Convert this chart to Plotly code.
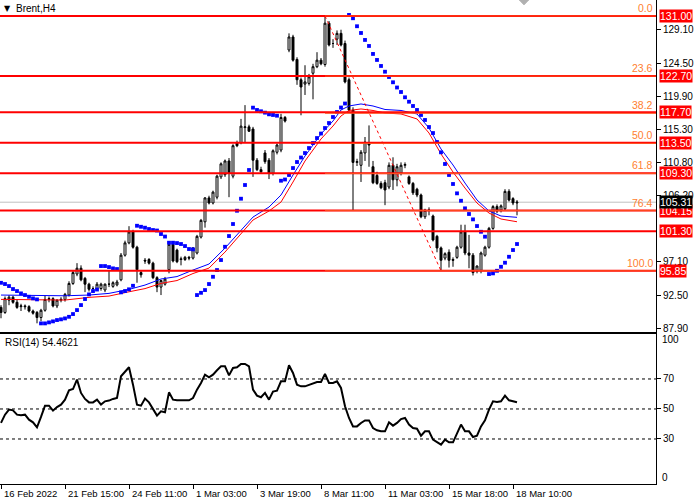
import plotly.graph_objects as go

# Brent H4, 16 Feb - 18 Mar 2022, one candle per 4 hours
open_ = [90.8, 90.1, 91.8, 92.2, 91.5, 90.9, 91.0, 90.9, 90.3, 90.1,
         89.4, 90.4, 91.9, 92.0, 91.0, 91.8, 91.9, 92.5, 94.1, 95.4,
         96.2, 94.8, 94.0, 93.4, 93.4, 93.4, 93.2, 94.0, 93.7, 93.9,
         94.6, 98.0, 99.7, 101.2, 99.1, 95.6, 97.3, 97.4, 96.9, 94.9,
         93.6, 94.0, 96.0, 99.5, 98.7, 97.5, 97.4, 97.7, 97.6, 98.3,
         100.5, 102.6, 105.9, 105.2, 106.0, 108.8, 109.1, 111.0, 108.9, 113.5,
         113.5, 115.6, 115.7, 115.4, 111.1, 109.8, 112.1, 111.1, 109.3, 112.2,
         112.5, 117.0, 126.3, 128.1, 125.0, 122.2, 121.6, 121.7, 123.1, 124.0,
         124.9, 124.3, 130.0, 127.2, 127.8, 128.6, 127.2, 122.2, 118.0, 110.8,
         110.4, 112.1, 113.4, 110.2, 109.0, 107.9, 108.0, 107.4, 110.4, 108.4,
         109.3, 110.4, 108.8, 107.9, 107.1, 106.3, 103.3, 104.2, 103.4, 100.6,
         99.0, 97.6, 98.4, 97.4, 97.7, 99.1, 101.2, 98.3, 98.0, 95.8,
         95.9, 98.0, 99.1, 101.7, 104.7, 104.2, 104.4, 106.8, 105.8, 105.2]
high = [91.1, 92.3, 92.5, 92.4, 91.9, 91.3, 91.2, 91.1, 90.5, 90.3,
        90.6, 92.5, 92.3, 92.2, 91.9, 92.2, 92.8, 94.4, 95.9, 96.9,
        96.6, 95.0, 94.2, 93.7, 94.3, 94.2, 94.1, 95.9, 94.4, 94.6,
        98.3, 100.0, 102.0, 101.5, 99.3, 95.9, 97.6, 97.6, 97.1, 95.1,
        94.6, 95.0, 99.6, 99.6, 98.9, 97.8, 97.9, 97.9, 99.1, 100.8,
        103.0, 106.0, 106.2, 106.9, 109.1, 110.8, 111.2, 111.4, 113.3, 113.8,
        116.8, 118.7, 116.0, 115.7, 111.4, 110.2, 112.5, 111.4, 112.6, 113.4,
        117.5, 117.2, 128.6, 128.4, 125.3, 122.5, 124.2, 123.0, 124.4, 126.0,
        125.2, 131.0, 130.3, 127.8, 129.0, 129.1, 127.6, 122.5, 118.4, 111.3,
        112.5, 114.3, 115.9, 111.0, 109.5, 108.2, 108.4, 110.8, 111.5, 110.6,
        110.8, 110.8, 109.0, 108.1, 107.3, 106.5, 104.4, 104.6, 103.6, 100.8,
        99.2, 98.4, 98.8, 97.7, 99.3, 102.2, 102.2, 100.8, 98.3, 96.6,
        98.5, 99.3, 101.9, 104.9, 105.0, 105.0, 107.1, 107.1, 106.0, 105.6]
low = [89.3, 89.9, 91.1, 91.3, 90.6, 90.3, 90.5, 90.1, 89.8, 88.6,
       88.9, 90.2, 91.5, 90.8, 90.7, 91.5, 91.6, 92.3, 93.9, 95.1,
       94.4, 92.9, 93.0, 93.0, 93.1, 93.1, 92.9, 93.6, 93.5, 93.7,
       94.4, 97.8, 99.5, 98.9, 94.2, 94.9, 96.8, 96.7, 94.7, 92.9,
       92.5, 93.8, 95.5, 97.0, 96.9, 96.6, 97.2, 97.3, 97.4, 98.1,
       100.3, 101.8, 105.0, 105.0, 105.7, 108.5, 108.8, 106.0, 108.6, 112.9,
       113.3, 113.5, 115.0, 108.8, 109.6, 109.2, 110.6, 108.5, 109.0, 111.9,
       112.2, 116.3, 126.0, 124.7, 121.5, 117.3, 120.1, 121.4, 119.5, 123.8,
       124.2, 124.0, 126.8, 126.6, 127.0, 126.8, 121.7, 117.8, 104.2, 110.3,
       108.1, 111.0, 110.2, 107.8, 107.7, 107.1, 104.9, 107.1, 107.0, 107.5,
       109.0, 110.0, 107.7, 106.3, 106.0, 103.1, 103.0, 103.5, 99.9, 98.4,
       95.85, 97.3, 96.3, 96.4, 97.5, 98.9, 98.0, 96.2, 95.2, 95.5,
       95.5, 97.8, 98.9, 101.5, 103.8, 103.9, 104.1, 105.4, 104.9, 103.5]
close = [90.1, 92.0, 92.2, 91.5, 90.8, 91.0, 90.9, 90.3, 90.0, 89.4,
         90.4, 91.9, 92.0, 91.0, 91.8, 91.9, 92.6, 94.1, 95.6, 96.2,
         94.6, 94.0, 93.3, 93.4, 94.0, 94.0, 94.0, 94.0, 94.2, 94.3,
         98.0, 99.7, 101.2, 99.1, 96.0, 95.3, 97.2, 96.9, 94.9, 93.6,
         94.5, 94.7, 99.5, 97.2, 97.1, 97.4, 97.7, 97.6, 99.0, 100.6,
         102.8, 105.9, 105.2, 106.7, 108.9, 110.6, 111.0, 109.3, 113.1, 113.1,
         115.8, 115.7, 115.1, 111.1, 109.8, 109.5, 110.9, 109.3, 112.4, 113.2,
         117.0, 116.5, 128.1, 124.9, 122.2, 121.2, 121.9, 122.6, 124.0, 124.9,
         124.4, 130.0, 127.0, 127.2, 128.6, 127.0, 121.9, 118.0, 110.8, 110.9,
         112.2, 113.6, 113.2, 108.0, 107.9, 107.3, 107.0, 110.4, 108.4, 110.2,
         110.4, 110.5, 107.9, 106.6, 106.3, 103.3, 104.2, 104.2, 100.1, 99.0,
         97.3, 98.2, 97.3, 97.3, 99.1, 101.2, 98.3, 98.0, 95.6, 96.5,
         98.3, 99.1, 101.7, 104.7, 104.1, 104.8, 106.8, 105.6, 105.2, 105.31]

# Parabolic SAR, one dot per candle
sar = [94.19, 94.02, 93.74, 93.33, 93.05, 92.73, 92.50, 92.26, 92.04, 91.90,
       88.59, 88.59, 88.73, 88.87, 89.05, 89.15, 89.28, 89.50, 89.88, 90.43,
       91.12, 91.95, 92.59, 93.05, 93.26, 96.50, 96.50, 96.36, 96.18, 96.09,
       92.87, 93.05, 93.29, 93.78, 102.06, 101.92, 101.79, 101.61, 101.47, 101.40,
       100.92, 100.57, 99.72, 99.72, 99.67, 99.54, 99.26, 98.85, 98.80, 92.50,
       92.81, 93.19, 94.02, 95.02, 95.95, 97.33, 99.16, 100.64, 102.30, 104.13,
       105.79, 107.68, 109.75, 118.35, 118.03, 117.85, 117.66, 117.43, 117.34, 117.24,
       108.27, 108.44, 109.06, 110.02, 110.85, 111.47, 112.09, 112.78, 113.47, 114.16,
       114.78, 115.54, 116.23, 117.06, 117.75, 118.37, 118.92, 131.14, 130.68, 129.58,
       128.65, 127.69, 126.86, 125.76, 124.93, 124.10, 123.31, 122.58, 121.85, 121.13,
       120.51, 119.78, 119.17, 118.58, 118.03, 117.34, 116.65, 115.68, 114.85, 113.61,
       112.19, 110.58, 109.06, 107.82, 106.53, 105.51, 104.46, 103.68, 102.94, 102.02,
       101.23, 100.55, 95.40, 95.49, 95.85, 96.40, 96.96, 97.78, 98.71, 99.54]

# moving averages, sampled along the chart
ma_idx = [0, 8, 16, 22, 27, 32, 36, 40, 44, 48, 52, 56, 60, 63, 67, 70, 73, 76,
          80, 83, 85, 87, 90, 93, 96, 100, 104, 107, 110, 113, 116, 119, 122, 125, 129]
ma_blue = [92.50, 92.43, 92.40, 92.50, 92.73, 93.28, 93.88, 94.71, 95.05, 95.95,
           96.78, 98.98, 101.47, 103.26, 104.64, 106.30, 109.06, 111.68, 114.72, 116.51,
           118.03, 118.58, 118.86, 118.58, 118.10, 117.96, 117.48, 115.54, 112.65, 110.44,
           107.95, 105.61, 104.09, 103.40, 103.22]
ma_red = [91.90, 91.88, 91.81, 92.18, 92.36, 92.95, 93.39, 94.11, 94.50, 95.47,
          96.22, 98.43, 100.98, 102.85, 104.09, 105.33, 108.09, 110.99, 114.03, 115.82,
          117.20, 117.96, 118.17, 117.96, 117.61, 117.48, 116.79, 114.85, 111.96, 109.47,
          107.26, 105.19, 103.81, 102.99, 102.61]

# RSI(14), one value per candle
rsi = [40.7, 46.2, 49.6, 49.1, 46.2, 45.8, 46.2, 42.9, 41.1, 37.8,
       44.7, 52.2, 52.2, 48.9, 51.3, 52.9, 56.2, 62.4, 63.3, 69.6,
       60.7, 56.7, 54.4, 54.4, 56.2, 52.9, 55.1, 55.6, 56.7, 57.3,
       71.8, 75.1, 77.8, 66.2, 52.9, 52.2, 56.9, 54.4, 49.6, 45.6,
       48.4, 47.8, 61.1, 56.2, 55.8, 55.8, 55.8, 55.8, 57.3, 62.9,
       67.3, 72.9, 71.1, 72.9, 75.8, 78.4, 78.4, 72.4, 77.3, 77.8,
       80.0, 80.0, 78.4, 62.9, 58.9, 57.8, 60.7, 56.2, 61.6, 62.2,
       68.4, 68.4, 79.1, 74.0, 66.2, 65.1, 65.1, 66.2, 67.3, 68.0,
       68.0, 73.3, 67.3, 67.3, 68.4, 64.0, 51.8, 44.0, 38.4, 38.4,
       40.7, 42.4, 42.4, 37.3, 35.8, 35.1, 35.1, 41.1, 38.9, 40.7,
       43.3, 44.0, 39.6, 37.3, 36.9, 32.2, 35.1, 35.1, 29.6, 27.8,
       26.2, 29.6, 27.8, 27.8, 33.6, 39.6, 35.1, 35.1, 31.3, 32.2,
       38.4, 42.4, 49.6, 55.1, 54.7, 55.1, 58.9, 55.8, 55.1, 54.46]

date_idx = [0, 16, 32, 48, 64, 80, 96, 112, 128]
date_labels = ["16 Feb 2022", "21 Feb 15:00", "24 Feb 11:00", "1 Mar 03:00", "3 Mar 19:00",
               "8 Mar 11:00", "11 Mar 03:00", "15 Mar 18:00", "18 Mar 10:00"]

# horizontal levels drawn on the chart
level_prices = [131.00, 122.70, 117.70, 113.50, 109.30, 104.15, 101.30, 95.85]
fib_pcts = [0.0, 23.6, 38.2, 50.0, 61.8, 76.4, 100.0]
fib_start, fib_end = 81, 110
fib_high, fib_low = 131.00, 95.85

price_ticks = [87.90, 92.50, 97.10, 106.20, 110.80, 115.30, 119.90, 124.50, 129.10]

FONT = "Liberation Sans, Arial, sans-serif"
x = list(range(len(close)))
x_range = [-0.25, 163.75]

fig = go.Figure()

fig.add_trace(go.Candlestick(
    x=x, open=open_, high=high, low=low, close=close,
    increasing=dict(line=dict(color="black", width=1), fillcolor="white"),
    decreasing=dict(line=dict(color="black", width=1), fillcolor="black"),
    whiskerwidth=0, xaxis="x", yaxis="y", showlegend=False,
))
fig.add_trace(go.Scatter(x=ma_idx, y=ma_red, mode="lines",
                         line=dict(color="#FF0000", width=1), xaxis="x", yaxis="y"))
fig.add_trace(go.Scatter(x=ma_idx, y=ma_blue, mode="lines",
                         line=dict(color="#0000FF", width=1), xaxis="x", yaxis="y"))
fig.add_trace(go.Scatter(x=x, y=sar, mode="markers",
                         marker=dict(symbol="square", size=3.8, color="#0000FF"),
                         xaxis="x", yaxis="y"))
# fibo trend line
fig.add_trace(go.Scatter(x=[fib_start, fib_end], y=[fib_high, fib_low], mode="lines",
                         line=dict(color="#FF0000", width=1, dash="dot"), xaxis="x", yaxis="y"))
fig.add_trace(go.Scatter(x=x, y=rsi, mode="lines", line=dict(color="black", width=2),
                         xaxis="x2", yaxis="y2"))

shapes = []
annotations = []

# bid line
shapes.append(dict(type="line", xref="paper", x0=0, x1=1, yref="y", y0=close[-1], y1=close[-1],
                   line=dict(color="#C0C0C0", width=1), layer="below"))

for p in level_prices:
    shapes.append(dict(type="line", xref="paper", x0=0, x1=1, yref="y", y0=p, y1=p,
                       line=dict(color="#FF0000", width=2), layer="above"))
    annotations.append(dict(xref="paper", x=1, xshift=3, xanchor="left", yref="y", y=p,
                            text=f"{p:.2f}", showarrow=False, bgcolor="#FF0000",
                            font=dict(color="white", size=10.5, family=FONT), borderpad=0))

fib_range = fib_high - fib_low
for pct in fib_pcts:
    lv = fib_high - pct / 100 * fib_range
    shapes.append(dict(type="line", xref="x", x0=fib_start, x1=x_range[1], yref="y", y0=lv, y1=lv,
                       line=dict(color="#FF5020", width=1), layer="above"))
    annotations.append(dict(xref="paper", x=1, xshift=-1, xanchor="right", yref="y", y=lv,
                            yanchor="bottom", text=f"{pct:.1f}", showarrow=False,
                            font=dict(color="#FF8030", size=10.5, family=FONT)))

annotations.append(dict(xref="paper", x=1, xshift=3, xanchor="left", yref="y", y=close[-1],
                        text=f"{close[-1]:.2f}", showarrow=False, bgcolor="black",
                        font=dict(color="white", size=10.5, family=FONT), borderpad=0))

for lv in [30, 50, 70]:
    shapes.append(dict(type="line", xref="paper", x0=0, x1=1, yref="y2", y0=lv, y1=lv,
                       line=dict(color="black", width=1, dash="3px,3px")))

# chart shift marker
shapes.append(dict(type="path", xref="x", yref="paper",
                   path="M 129.6 1 L 131.9 1 L 130.75 0.99 Z",
                   fillcolor="#B0B0B0", line=dict(color="#B0B0B0", width=1)))

for i, lab in zip(date_idx, date_labels):
    annotations.append(dict(xref="x2", x=i, xshift=1, xanchor="left", yref="paper", y=0,
                            yshift=-9, yanchor="middle", text=lab, showarrow=False,
                            font=dict(color="black", size=9.5, family=FONT)))

annotations.append(dict(xref="paper", x=0, xshift=2, xanchor="left", yref="paper", y=1,
                        yshift=-8, yanchor="middle", text="▼", showarrow=False,
                        font=dict(color="black", size=8, family="DejaVu Sans")))
annotations.append(dict(xref="paper", x=0, xshift=14, xanchor="left", yref="paper", y=1,
                        yshift=-8, yanchor="middle", text="Brent,H4", showarrow=False,
                        font=dict(color="black", size=10, family=FONT)))
annotations.append(dict(xref="paper", x=0, xshift=3, xanchor="left", yref="y2", y=100,
                        yshift=-9, yanchor="middle", text="RSI(14) 54.4621", showarrow=False,
                        font=dict(color="black", size=10, family=FONT)))
annotations.append(dict(xref="paper", x=1, xshift=4, xanchor="left", yref="y2", y=100,
                        yshift=-6, yanchor="middle", text="100", showarrow=False,
                        font=dict(color="black", size=10, family=FONT)))
annotations.append(dict(xref="paper", x=1, xshift=4, xanchor="left", yref="y2", y=0,
                        yshift=7, yanchor="middle", text="0", showarrow=False,
                        font=dict(color="black", size=10, family=FONT)))

fig.update_layout(
    width=700, height=500,
    margin=dict(l=0, r=44, t=0, b=16),
    paper_bgcolor="white", plot_bgcolor="white",
    showlegend=False, hovermode=False,
    font=dict(family=FONT, size=10, color="black"),
    xaxis=dict(domain=[0, 1], anchor="y", range=x_range, showticklabels=False,
               showline=True, linecolor="black", linewidth=1, ticks="", showgrid=False,
               zeroline=False, rangeslider=dict(visible=False), matches="x2"),
    yaxis=dict(domain=[0.314, 1], anchor="x", side="right", range=[87.4, 133.2],
               tickvals=price_ticks, tickformat=".2f", ticks="outside", ticklen=4,
               tickcolor="black", showline=True, linecolor="black", showgrid=False,
               zeroline=False, tickfont=dict(size=10)),
    xaxis2=dict(domain=[0, 1], anchor="y2", range=x_range, tickvals=date_idx,
                showticklabels=False, ticks="outside", ticklen=4, tickcolor="black",
                showline=True, mirror=True, linecolor="black", showgrid=False, zeroline=False),
    yaxis2=dict(domain=[0, 0.31], anchor="x2", side="right", range=[0, 100],
                tickvals=[30, 50, 70], ticks="outside", ticklen=4, tickcolor="black",
                showline=True, linecolor="black", showgrid=False, zeroline=False,
                tickfont=dict(size=10)),
    shapes=shapes, annotations=annotations,
)

# the page body has a default 8px margin; drop it so the figure fills the window
fig.write_html("out.html", config={"displayModeBar": False},
               post_script="document.body.style.margin='0';")
